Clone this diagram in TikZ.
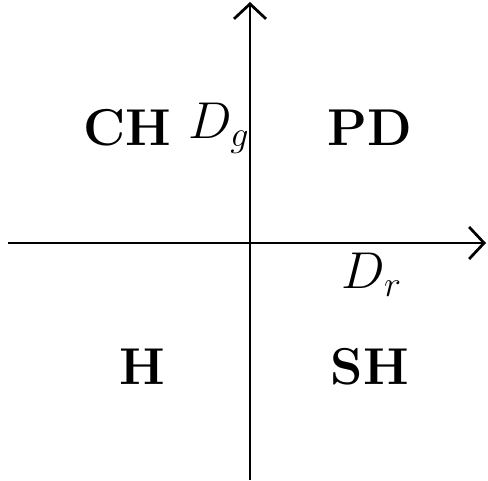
\documentclass[tikz,border=0pt]{standalone}
\usepackage{amssymb}
\usetikzlibrary{arrows.meta}

\begin{document}
\begin{tikzpicture}[x=0.4pt, y=0.4pt, every node/.style={font=\fontsize{19.5}{23}\selectfont}]
				\useasboundingbox (-250,-238) rectangle (238,243);
				% Assi
				\coordinate (xs) at (-242,0);
				\coordinate (xe) at (236,0);
				\coordinate (ys) at (0,-237);
				\coordinate (ye) at (0,241);
				\draw[line width=1.1pt, -{Straight Barb[length=6pt, width=12.8pt]}] (xs) -- (xe);
				\draw[line width=1.1pt, -{Straight Barb[length=6pt, width=12.8pt]}] (ys) -- (ye);
				\node (dr) at (122,-32) {$D_r$};
				\node (dg) at (-31,115) {$D_g$};
				
				% Quadranti
				\node (ch) at (-123,115) {$\mathbf{CH}$};
				\node (pd) at (120,115) {$\mathbf{PD}$};
				\node (h) at (-108,-124) {$\mathbf{H}$};
				\node (sh) at (120,-124) {$\mathbf{SH}$};
			\end{tikzpicture}
\end{document}
